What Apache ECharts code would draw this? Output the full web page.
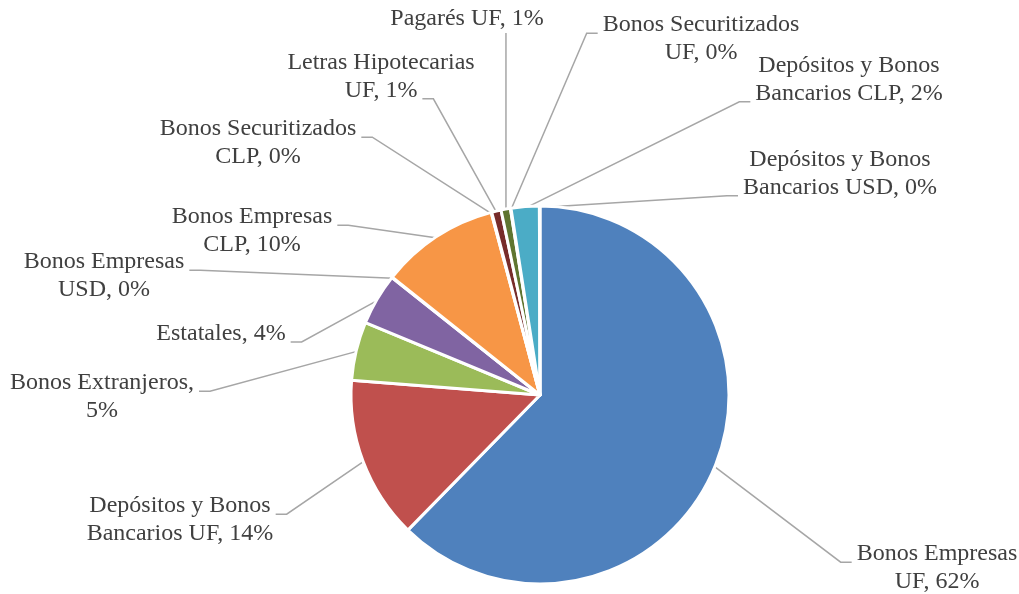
<!DOCTYPE html>
<html>
<head>
<meta charset="utf-8">
<script src="https://cdn.jsdelivr.net/npm/echarts@6/dist/echarts.min.js"></script>
<style>
html,body{margin:0;padding:0;background:#fff;}
#chart{width:1019px;height:594px;}
</style>
</head>
<body>
<div id="chart"></div>
<script>
// Categories in clockwise order from 12 o'clock
var categories = [
  'Bonos Empresas UF',
  'Depósitos y Bonos Bancarios UF',
  'Bonos Extranjeros',
  'Estatales',
  'Bonos Empresas USD',
  'Bonos Empresas CLP',
  'Bonos Securitizados CLP',
  'Letras Hipotecarias UF',
  'Pagarés UF',
  'Bonos Securitizados UF',
  'Depósitos y Bonos Bancarios CLP',
  'Depósitos y Bonos Bancarios USD'
];
// Share of portfolio (%)
var values = [62.2, 13.9, 5.0, 4.4, 0.05, 10.1, 0.05, 0.8, 0.8, 0.05, 2.4, 0.05];
var colors = ['#4F81BD', '#C0504D', '#9BBB59', '#8064A2', '#4BACC6', '#F79646',
              '#2C4D75', '#772C2A', '#5F7530', '#4D3B62', '#4BACC6', '#B65708'];
// number of words on the first label line (0 = no wrap)
var labelWrap = [2, 3, 2, 0, 2, 2, 2, 2, 0, 2, 3, 3];
// label block centres (layout)
var labelPos = [
  [937, 568], [180, 520], [102, 397], [221, 334], [104, 276], [252, 231],
  [258, 143], [381, 77], [467, 19], [701, 39], [849, 80], [840, 174]
];
// which text line the leader line meets: 'f' first, 'l' last, 'v' vertical from below
var leaderAttach = ['f', 'f', 'f', 'l', 'f', 'f', 'f', 'l', 'v', 'f', 'l', 'l'];

var FONT_SIZE = 24, LINE_H = 27.6, FONT_FAMILY = 'Liberation Serif';
var CX = 540, CY = 395, R = 189;

var measureCtx = document.createElement('canvas').getContext('2d');
measureCtx.font = FONT_SIZE + 'px "' + FONT_FAMILY + '"';

var total = values.reduce(function (a, b) { return a + b; }, 0);
function sliceAnchor(i) {
  try {
    var lay = chart.getModel().getSeriesByIndex(0).getData().getItemLayout(i);
    if (lay && lay.startAngle != null) {
      var m = (lay.startAngle + lay.endAngle) / 2;
      var rr = (lay.r || R) - 1.5;
      return [lay.cx + rr * Math.cos(m), lay.cy + rr * Math.sin(m)];
    }
  } catch (e) {}
  var cum = 0;
  for (var k = 0; k < i; k++) cum += values[k];
  var a = -Math.PI / 2 + (cum + values[i] / 2) / total * Math.PI * 2;
  return [CX + (R - 1.5) * Math.cos(a), CY + (R - 1.5) * Math.sin(a)];
}

var chart = echarts.init(document.getElementById('chart'), null, {renderer: 'canvas'});
var data = categories.map(function (c, i) {
  return { name: c, value: values[i], itemStyle: { color: colors[i] } };
});
chart.setOption({
  backgroundColor: '#ffffff',
  animation: false,
  series: [{
    type: 'pie',
    center: [CX, CY],
    radius: R,
    startAngle: 90,
    clockwise: true,
    avoidLabelOverlap: false,
    data: data,
    itemStyle: { borderColor: '#ffffff', borderWidth: 3 },
    label: {
      show: true,
      position: 'outside',
      fontFamily: FONT_FAMILY,
      fontSize: FONT_SIZE,
      lineHeight: LINE_H,
      color: '#404040',
      align: 'center',
      formatter: function (p) {
        var words = (p.name + ', ' + Math.round(p.percent) + '%').split(' ');
        var k = labelWrap[p.dataIndex];
        if (!k) return words.join(' ');
        return words.slice(0, k).join(' ') + '\n' + words.slice(k).join(' ');
      }
    },
    labelLine: {
      show: true,
      length: 10,
      length2: 10,
      smooth: false,
      lineStyle: { color: '#A6A6A6', width: 1.5 }
    },
    labelLayout: function (params) {
      var i = params.dataIndex;
      var pos = labelPos[i];
      var lx = pos[0], ly = pos[1];
      var anc = sliceAnchor(i);
      var lines = String(params.text || '').split('\n');
      var n = lines.length;
      var pts;
      if (leaderAttach[i] === 'v') {
        var bottomBase = ly + (n - 1) * LINE_H / 2 + 8;
        pts = [[anc[0], anc[1]], [anc[0], bottomBase + 6]];
      } else {
        var useFirst = leaderAttach[i] === 'f';
        var line = useFirst ? lines[0] : lines[n - 1];
        var lineC = ly + (useFirst ? -1 : 1) * (n - 1) * LINE_H / 2;
        var sy = lineC + 8;
        var w = measureCtx.measureText(line).width;
        var side = anc[0] > lx ? 1 : -1;
        var ex = lx + side * (w / 2 + 5);
        pts = [[anc[0], anc[1]], [ex + side * 11, sy], [ex, sy]];
      }
      return { x: lx, y: ly, align: 'center', verticalAlign: 'middle', labelLinePoints: pts };
    },
    emphasis: { disabled: true }
  }]
});
</script>
</body>
</html>
